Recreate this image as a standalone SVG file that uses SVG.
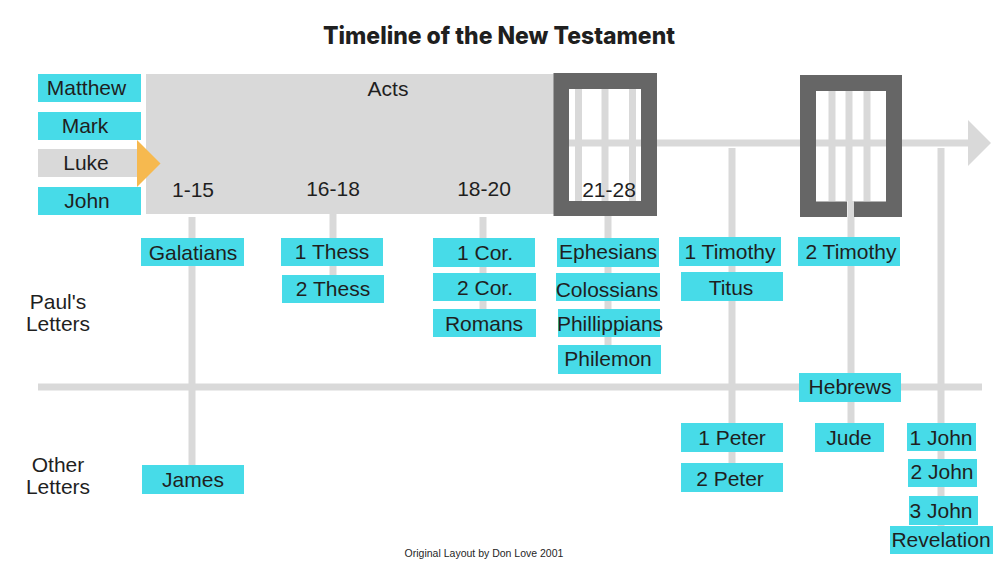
<svg xmlns="http://www.w3.org/2000/svg" width="1000" height="563" viewBox="0 0 1000 563">
<style>
text{font-family:"Liberation Sans",Arial,sans-serif;font-size:21px;fill:#1f1f1f;text-anchor:middle}
.c{fill:#47dbe8}
.g{fill:#d9d9d9}
.d{fill:#666666}
.l{stroke:#d9d9d9;stroke-width:7;fill:none}
</style>
<rect width="1000" height="563" fill="#ffffff"/>
<g id="title"><text x="499" y="44" style="font-family:Inter,'Liberation Sans',sans-serif;font-weight:800;font-size:24px" textLength="352" lengthAdjust="spacingAndGlyphs">Timeline of the New Testament</text></g>
<g id="acts"><rect class="g" x="146" y="74" width="408" height="140"/><text x="388" y="96">Acts</text></g>
<g id="connectors">
<path class="l" d="M554 143H970M38 387H982M192 217V466M333 214V276M483 217V310M608 216V346M732 148V464M851 201V424M941 148V527M578.500 89V201M605 89V201M632.500 89V201M832 91V201M849 91V201M867 91V201"/>
<path class="g" d="M968 120L991 143L968 166Z"/>
</g>
<g id="jail1"><path class="d" fill-rule="evenodd" d="M553.500 73H657V216H553.500ZM569 89V201H641V89Z"/></g>
<g id="jail2"><path class="d" d="M800 75H902V217H854V201.500H886V91H816V201.500H847V217H800Z"/></g>
<g id="matthew"><rect class="c" x="38" y="74" width="103" height="28"/><text x="86.500" y="95">Matthew</text></g>
<g id="mark"><rect class="c" x="38" y="112" width="103" height="28"/><text x="85" y="133">Mark</text></g>
<g id="luke"><rect class="g" x="38" y="149" width="103" height="28"/><text x="86" y="170">Luke</text></g>
<g id="john"><rect class="c" x="38" y="187" width="103" height="28"/><text x="87" y="208">John</text></g>
<g id="arrow"><path fill="#f6b94f" d="M137 140L160.500 163.500L137 187Z"/></g>
<g id="r1"><text x="193" y="197">1-15</text></g>
<g id="r2"><text x="333" y="196">16-18</text></g>
<g id="r3"><text x="484" y="196">18-20</text></g>
<g id="r4"><text x="609" y="197">21-28</text></g>
<g id="galatians"><rect class="c" x="141" y="238" width="103" height="28"/><text x="193" y="260">Galatians</text></g>
<g id="thess1"><rect class="c" x="281" y="238" width="102" height="28"/><text x="332" y="259">1 Thess</text></g>
<g id="thess2"><rect class="c" x="282" y="275" width="102" height="28"/><text x="333" y="296">2 Thess</text></g>
<g id="cor1"><rect class="c" x="433" y="238" width="102" height="29"/><text x="485" y="260">1 Cor.</text></g>
<g id="cor2"><rect class="c" x="433" y="273" width="103" height="28"/><text x="485" y="295">2 Cor.</text></g>
<g id="romans"><rect class="c" x="433" y="309" width="103" height="28"/><text x="484" y="331">Romans</text></g>
<g id="ephesians"><rect class="c" x="557" y="238" width="102" height="29"/><text x="608" y="259">Ephesians</text></g>
<g id="colossians"><rect class="c" x="556" y="273" width="104" height="28"/><text x="607" y="297">Colossians</text></g>
<g id="phillippians"><rect class="c" x="558" y="309" width="102" height="28"/><text x="610" y="331">Phillippians</text></g>
<g id="philemon"><rect class="c" x="558" y="345" width="103" height="29"/><text x="608" y="366">Philemon</text></g>
<g id="timothy1"><rect class="c" x="679" y="237" width="102" height="29"/><text x="730" y="259">1 Timothy</text></g>
<g id="titus"><rect class="c" x="681" y="272" width="102" height="29"/><text x="731" y="295">Titus</text></g>
<g id="timothy2"><rect class="c" x="798" y="237" width="102" height="29"/><text x="851" y="259">2 Timothy</text></g>
<g id="hebrews"><rect class="c" x="799" y="373" width="102" height="29"/><text x="850" y="394">Hebrews</text></g>
<g id="peter1"><rect class="c" x="681" y="423" width="102" height="29"/><text x="732" y="445">1 Peter</text></g>
<g id="peter2"><rect class="c" x="681" y="463" width="102" height="29"/><text x="730" y="486">2 Peter</text></g>
<g id="jude"><rect class="c" x="815" y="423" width="69" height="29"/><text x="849" y="445">Jude</text></g>
<g id="john1"><rect class="c" x="907" y="423" width="69" height="28"/><text x="941" y="445">1 John</text></g>
<g id="john2"><rect class="c" x="908" y="459" width="69" height="28"/><text x="942" y="479">2 John</text></g>
<g id="john3"><rect class="c" x="909" y="496" width="69" height="29"/><text x="941" y="518">3 John</text></g>
<g id="revelation"><rect class="c" x="890" y="526" width="103" height="28"/><text x="941" y="547">Revelation</text></g>
<g id="james"><rect class="c" x="142" y="465" width="102" height="29"/><text x="193" y="487">James</text></g>
<g id="pauls"><text x="58" y="309">Paul's</text><text x="58" y="331">Letters</text></g>
<g id="other"><text x="58" y="472">Other</text><text x="58" y="494">Letters</text></g>
<g id="credit"><text x="484" y="557" style="font-size:10.500px">Original Layout by Don Love 2001</text></g>
</svg>
